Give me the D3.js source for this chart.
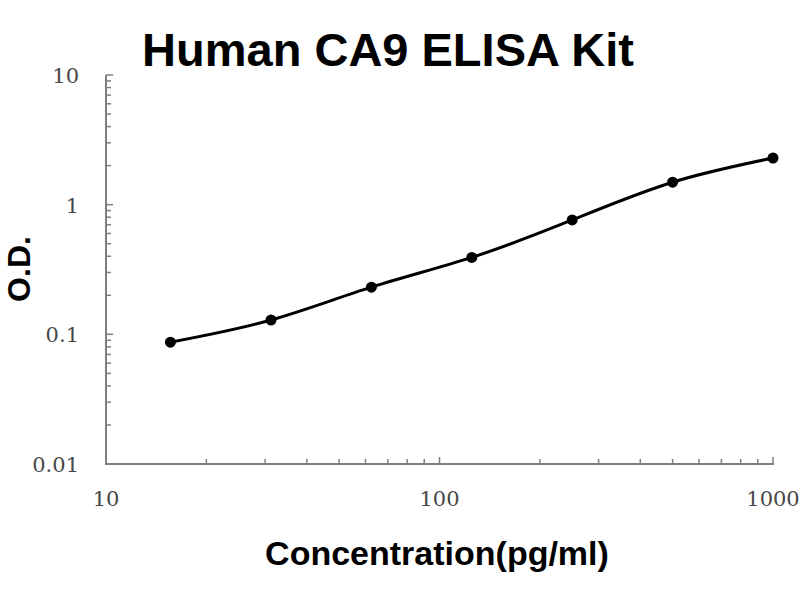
<!DOCTYPE html>
<html>
<head>
<meta charset="utf-8">
<script src="https://cdn.jsdelivr.net/npm/d3@7"></script>
<style>
  body { margin: 0; background: #fff; }
  svg { display: block; }
</style>
</head>
<body>
<div id="chart"></div>
<script>
const title      = "Human CA9 ELISA Kit",
      xLabel     = "Concentration(pg/ml)",
      yLabel     = "O.D.";

const concentrations = [15.6, 31.25, 62.5, 125, 250, 500, 1000],
      odValues       = [0.087, 0.129, 0.231, 0.392, 0.762, 1.49, 2.29];

const xTickValues = [10, 100, 1000],
      yTickValues = [0.01, 0.1, 1, 10];

const width  = 800,
      height = 600,
      margin = {top: 75, right: 27, bottom: 136, left: 106};

const svg = d3.select("#chart").append("svg")
  .attr("width", width)
  .attr("height", height);

const x = d3.scaleLog()
  .domain([10, 1000])
  .range([margin.left, width - margin.right]);

const y = d3.scaleLog()
  .domain([0.01, 10])
  .range([height - margin.bottom, margin.top]);

const axisColor  = "#7f7f7f",
      labelColor = "#474747";

// minor + major ticks for each decade
function decadeTicks(lo, hi) {
  const out = [];
  for (let p = lo; p < hi; p *= 10) {
    for (let k = 1; k < 10; k++) out.push({v: p * k, major: k === 1});
  }
  out.push({v: hi, major: true});
  return out;
}

const gAxes = svg.append("g");

// y axis line
gAxes.append("line")
  .attr("x1", x(10)).attr("x2", x(10))
  .attr("y1", y(10)).attr("y2", y(0.01))
  .attr("stroke", axisColor).attr("stroke-width", 2);

// x axis line
gAxes.append("line")
  .attr("x1", x(10) - 1).attr("x2", x(1000) + 1)
  .attr("y1", y(0.01)).attr("y2", y(0.01))
  .attr("stroke", axisColor).attr("stroke-width", 2);

// y ticks point inward (right)
gAxes.selectAll(".ytick")
  .data(decadeTicks(0.01, 10).filter(d => d.v > 0.01))
  .enter().append("line")
  .attr("class", "ytick")
  .attr("x1", x(10))
  .attr("x2", d => x(10) + (d.major ? 7 : 5))
  .attr("y1", d => y(d.v)).attr("y2", d => y(d.v))
  .attr("stroke", axisColor).attr("stroke-width", 1.5);

// x ticks point inward (up)
gAxes.selectAll(".xtick")
  .data(decadeTicks(10, 1000).filter(d => d.v > 10))
  .enter().append("line")
  .attr("class", "xtick")
  .attr("x1", d => x(d.v)).attr("x2", d => x(d.v))
  .attr("y1", y(0.01))
  .attr("y2", d => y(0.01) - (d.major ? 7 : 5))
  .attr("stroke", axisColor).attr("stroke-width", 1.5);

// tick labels
gAxes.selectAll(".ylab")
  .data(yTickValues)
  .enter().append("text")
  .attr("class", "ylab")
  .attr("x", x(10) - 27)
  .attr("y", d => y(d) + 8)
  .attr("text-anchor", "end")
  .attr("font-family", "DejaVu Serif, serif")
  .attr("font-size", 21)
  .attr("fill", labelColor)
  .text(d => d);

gAxes.selectAll(".xlab")
  .data(xTickValues)
  .enter().append("text")
  .attr("class", "xlab")
  .attr("x", d => x(d))
  .attr("y", 506)
  .attr("text-anchor", "middle")
  .attr("font-family", "DejaVu Serif, serif")
  .attr("font-size", 21)
  .attr("fill", labelColor)
  .text(d => d);

// fitted curve through the standards
const points = concentrations.map((c, i) => [c, odValues[i]]);

const line = d3.line()
  .x(d => x(d[0]))
  .y(d => y(d[1]))
  .curve(d3.curveNatural);

svg.append("path")
  .datum(points)
  .attr("d", line)
  .attr("fill", "none")
  .attr("stroke", "#000")
  .attr("stroke-width", 3);

svg.selectAll(".dot")
  .data(points)
  .enter().append("circle")
  .attr("class", "dot")
  .attr("cx", d => x(d[0]))
  .attr("cy", d => y(d[1]))
  .attr("r", 5.5)
  .attr("fill", "#000");

// titles
svg.append("text")
  .attr("x", 388)
  .attr("y", 66)
  .attr("text-anchor", "middle")
  .attr("font-family", "Liberation Sans, Arial, sans-serif")
  .attr("font-weight", "bold")
  .attr("font-size", 47)
  .attr("fill", "#000")
  .text(title);

svg.append("text")
  .attr("x", 437)
  .attr("y", 565)
  .attr("text-anchor", "middle")
  .attr("font-family", "Liberation Sans, Arial, sans-serif")
  .attr("font-weight", "bold")
  .attr("font-size", 34)
  .attr("fill", "#000")
  .text(xLabel);

svg.append("text")
  .attr("transform", "translate(30,269) rotate(-90)")
  .attr("text-anchor", "middle")
  .attr("font-family", "Liberation Sans, Arial, sans-serif")
  .attr("font-weight", "bold")
  .attr("font-size", 32)
  .attr("fill", "#000")
  .text(yLabel);
</script>
</body>
</html>
